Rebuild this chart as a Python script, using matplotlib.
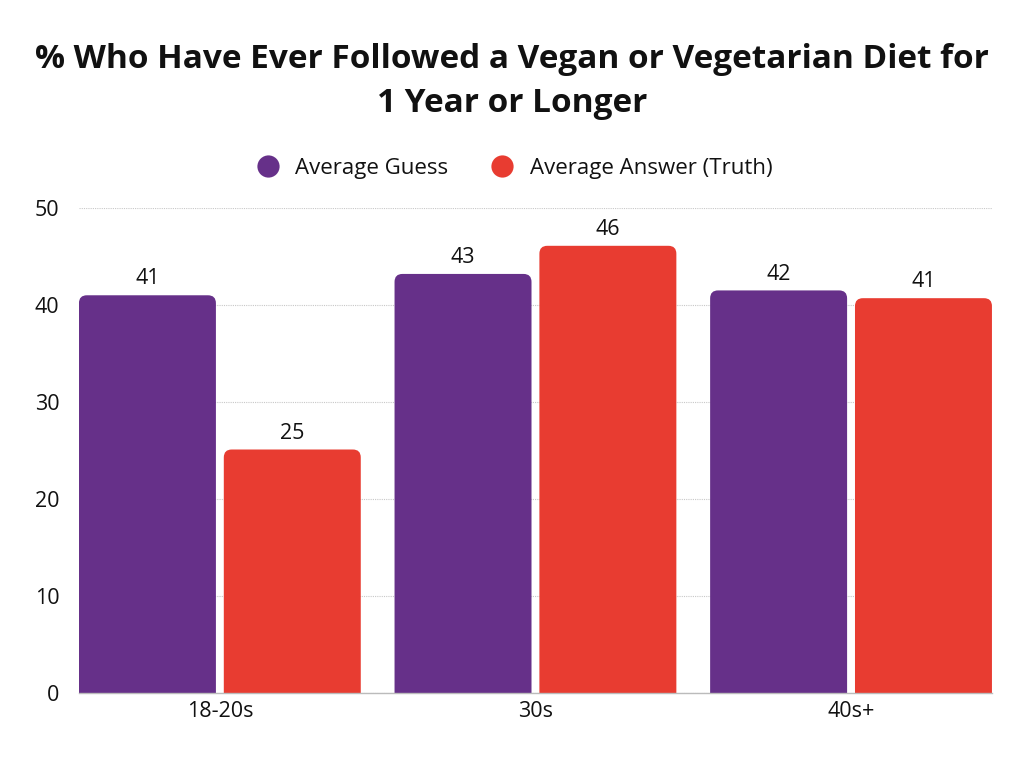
import matplotlib
matplotlib.use("Agg")
import matplotlib.pyplot as plt
from matplotlib.patches import FancyBboxPatch
from matplotlib.lines import Line2D
import numpy as np

plt.rcParams['font.family'] = ['Open Sans', 'DejaVu Sans']

categories = ["18-20s", "30s", "40s+"]
avg_guess = [41.0, 43.2, 41.5]
avg_truth = [25.1, 46.1, 40.7]
guess_labels = ["41", "43", "42"]
truth_labels = ["25", "46", "41"]
series_names = ["Average Guess", "Average Answer (Truth)"]

purple = "#663089"
red = "#E83C31"

fig = plt.figure(figsize=(10.24, 7.68), dpi=100)
ax = fig.add_axes([0.0771, 0.0977, 0.8916, 0.6315])

x = np.arange(len(categories))
w = 0.434
gap = 0.025
off = (w + gap) / 2

b1 = ax.bar(x - off, avg_guess, w, color=purple)
b2 = ax.bar(x + off, avg_truth, w, color=red)

# swap plain bars for ones with rounded tops
aspect = 32.6
for bars in (b1, b2):
    for p in bars:
        p.set_visible(False)
        x0, y0 = p.get_x(), p.get_y()
        bw, bh = p.get_width(), p.get_height()
        rp = FancyBboxPatch((x0, y0 - 2), bw, bh + 2,
                            boxstyle="round,pad=0,rounding_size=0.025",
                            mutation_aspect=aspect,
                            facecolor=p.get_facecolor(), edgecolor="none",
                            zorder=2)
        ax.add_patch(rp)

for bars, labs in ((b1, guess_labels), (b2, truth_labels)):
    for p, lab in zip(bars, labs):
        ax.text(p.get_x() + p.get_width() / 2, p.get_height() + 0.6, lab,
                ha="center", va="bottom", fontsize=15.5, color="#111111")

ax.set_xlim(x[0] - off - w / 2, x[-1] + off + w / 2)
ax.set_ylim(0, 50)
ax.set_yticks([0, 10, 20, 30, 40, 50])
ax.set_xticks(x)
ax.set_xticklabels(categories)
ax.tick_params(axis="both", length=0, labelsize=15.5, colors="#111111")
ax.tick_params(axis="y", pad=14)
ax.tick_params(axis="x", pad=6)
ax.yaxis.grid(True, color="#c8c8c8", linestyle=(0, (1, 1)), linewidth=0.8)
ax.set_axisbelow(True)
for s in ["top", "right", "left"]:
    ax.spines[s].set_visible(False)
ax.spines["bottom"].set_color("#bbbbbb")
ax.spines["bottom"].set_linewidth(1)

fig.text(0.5, 0.894, "% Who Have Ever Followed a Vegan or Vegetarian Diet for\n1 Year or Longer",
         ha="center", va="center", fontsize=24, fontweight="bold",
         linespacing=1.42, color="#111111")

handles = [Line2D([], [], marker="o", linestyle="none", markersize=16,
                  markerfacecolor=c, markeredgecolor="none") for c in (purple, red)]
fig.legend(handles, series_names, loc="center", bbox_to_anchor=(0.497, 0.781),
           ncol=2, frameon=False, fontsize=16, handletextpad=0.25,
           columnspacing=1.4, labelcolor="#111111")

fig.savefig("out.png", dpi=100, facecolor="white")
